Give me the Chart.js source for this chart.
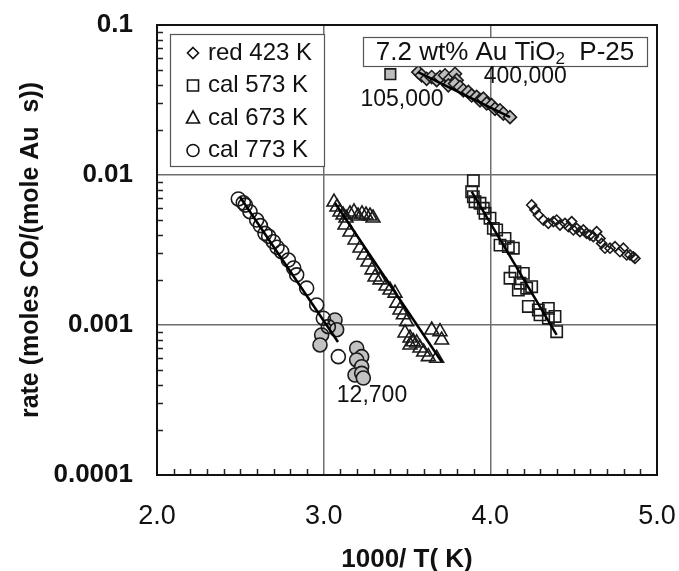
<!DOCTYPE html>
<html>
<head>
<meta charset="utf-8">
<script src="https://cdn.jsdelivr.net/npm/chart.js@4.4.0/dist/chart.umd.min.js"></script>
<style>
  html, body { margin: 0; padding: 0; background: #fff; }
  #wrap { width: 679px; height: 571px; }
</style>
</head>
<body>
<div id="wrap"><canvas id="arrhenius" width="679" height="571"></canvas></div>
<script>
const FONT = "'Liberation Sans', Arial, sans-serif";

// axis ticks
const xTicks = [2, 3, 4, 5];
const yTicks = [0.0001, 0.001, 0.01, 0.1];
const yTickLabels = ['0.0001', '0.001', '0.01', '0.1'];

// red 423 K (open diamonds)
const red423X = [4.248, 4.268, 4.288, 4.318, 4.348, 4.378, 4.398, 4.418, 4.448, 4.468, 4.488, 4.498, 4.518, 4.538, 4.558,
                 4.578, 4.598, 4.618, 4.638, 4.658, 4.668, 4.688, 4.718, 4.748, 4.778, 4.798, 4.818, 4.838, 4.858, 4.868];
const red423Y = [0.00631, 0.00585, 0.00541, 0.00501, 0.00476, 0.00489, 0.00501, 0.00464, 0.00476, 0.00452, 0.00489, 0.0043, 0.00441, 0.00419, 0.0043,
                 0.00408, 0.00398, 0.00388, 0.00419, 0.00378, 0.0035, 0.00325, 0.00325, 0.00333, 0.00308, 0.00325, 0.00293, 0.00293, 0.00285, 0.00278];

// cal 573 K (open squares)
const cal573X = [3.898, 3.888, 3.898, 3.908, 3.938, 3.958, 3.968, 3.998, 4.018, 4.038, 4.088, 4.058, 4.108, 4.138,
                 4.148, 4.198, 4.118, 4.178, 4.248, 4.168, 4.218, 4.228, 4.288, 4.348, 4.298, 4.388, 4.348, 4.398];
const cal573Y = [0.00916, 0.00774, 0.00717, 0.00664, 0.00648, 0.006, 0.00556, 0.00515, 0.00441, 0.0043, 0.00378, 0.00341, 0.00333, 0.00325,
                 0.00227, 0.00221, 0.00205, 0.0019, 0.0018, 0.00171, 0.00176, 0.00133, 0.00126, 0.00129, 0.00117, 0.00114, 0.00111, 0.000902];

// cal 673 K (open triangles)
const cal673X = [3.062, 3.08, 3.098, 3.116, 3.134, 3.158, 3.182, 3.206, 3.23, 3.254, 3.278, 3.296, 3.128, 3.158, 3.188,
                 3.218, 3.242, 3.266, 3.29, 3.308, 3.338, 3.374, 3.398, 3.428, 3.438, 3.458, 3.478, 3.498, 3.488, 3.518,
                 3.538, 3.518, 3.558, 3.578, 3.6, 3.648, 3.698, 3.708, 3.628, 3.678];
const cal673Y = [0.0066, 0.00612, 0.00567, 0.00541, 0.00517, 0.0055, 0.00567, 0.00533, 0.0055, 0.00541, 0.00533, 0.00517, 0.00464, 0.00417, 0.00369,
                 0.00326, 0.00293, 0.00263, 0.00233, 0.00209, 0.002, 0.00182, 0.00171, 0.00163, 0.0014, 0.00126, 0.00117, 0.00105, 0.000885, 0.000819,
                 0.000774, 0.000736, 0.000759, 0.000703, 0.00066, 0.000926, 0.000902, 0.000794, 0.000615, 0.0006];

// cal 773 K (open circles)
const cal773X = [2.488, 2.518, 2.53, 2.558, 2.598, 2.62, 2.648, 2.67, 2.698, 2.72, 2.748, 2.788, 2.82, 2.838, 2.898, 2.958, 2.998, 3.028, 3.088];
const cal773Y = [0.00692, 0.00653, 0.0063, 0.00569, 0.00501, 0.0046, 0.00408, 0.0039, 0.00359, 0.0033, 0.00308, 0.00271, 0.0024, 0.00216, 0.00176, 0.00136, 0.00111, 0.000975, 0.000615];

// grey filled points (not in legend)
const grey400X = [3.568, 3.588, 3.618, 3.648, 3.678, 3.698, 3.728, 3.758, 3.788, 3.798, 3.748, 3.788, 3.818,
                  3.838, 3.868, 3.888, 3.918, 3.938, 3.958, 3.978, 4.008, 4.028, 4.058, 4.078, 4.118];
const grey400Y = [0.0485, 0.0462, 0.0438, 0.045, 0.0429, 0.045, 0.0462, 0.0438, 0.0473, 0.0429, 0.0396, 0.0407, 0.0386,
                  0.0367, 0.0358, 0.0339, 0.0332, 0.0315, 0.0323, 0.03, 0.0292, 0.0276, 0.027, 0.0257, 0.0243];
const grey105X = [3.4];
const grey105Y = [0.047];
const grey127X = [3.068, 3.078, 2.988, 2.978, 3.198, 3.228, 3.198, 3.228, 3.188, 3.228, 3.238];
const grey127Y = [0.00108, 0.00093, 0.000858, 0.000736, 0.0007, 0.000615, 0.000585, 0.000527, 0.000464, 0.000476, 0.000443];

// fitted lines
const fit400X = [3.566, 4.118];
const fit400Y = [0.0485, 0.0243];
const fit573X = [3.888, 4.398];
const fit573Y = [0.00774, 0.000858];
const fit673X = [3.068, 3.708];
const fit673Y = [0.0065, 0.000569];
const fit773X = [2.498, 3.086];
const fit773Y = [0.00713, 0.00077];

// legend and annotations
const legendLabels = ['red 423 K', 'cal 573 K', 'cal 673 K', 'cal 773 K'];
const legendStyles = ['rectRot', 'rect', 'triangle', 'circle'];
const noteText = ['400,000', '105,000', '12,700'];
const noteX = [4.21, 3.47, 3.29];
const noteY = [0.0455, 0.032, 0.00034];

const pts = (xs, ys) => xs.map((v, i) => ({x: v, y: ys[i]}));

const fitLine = (xs, ys) => ({
  data: pts(xs, ys), showLine: true, pointRadius: 0, borderColor: '#000', borderWidth: 2.5
});
const markers = (xs, ys, style, r, fill) => ({
  data: pts(xs, ys), showLine: false, pointStyle: style, pointRadius: r,
  pointBackgroundColor: fill, pointBorderColor: '#1a1a1a', pointBorderWidth: 1.6
});

function drawMark(ctx, style, x, y) {
  ctx.beginPath();
  if (style === 'rectRot') {
    ctx.moveTo(x, y - 5.5); ctx.lineTo(x + 5.5, y); ctx.lineTo(x, y + 5.5); ctx.lineTo(x - 5.5, y); ctx.closePath();
  } else if (style === 'rect') {
    ctx.rect(x - 5.5, y - 5.5, 11, 11);
  } else if (style === 'triangle') {
    ctx.moveTo(x, y - 7); ctx.lineTo(x + 6.5, y + 5); ctx.lineTo(x - 6.5, y + 5); ctx.closePath();
  } else {
    ctx.arc(x, y, 6, 0, Math.PI * 2);
  }
  ctx.stroke();
}

const extras = {
  id: 'extras',
  afterDraw(chart) {
    const {ctx, chartArea: a, scales: {x, y}} = chart;
    ctx.save();

    // minor ticks inside the frame
    ctx.strokeStyle = '#222';
    ctx.lineWidth = 1.5;
    ctx.beginPath();
    for (let k = 21; k < 50; k++) {
      if (k % 10 === 0) continue;
      const px = Math.round(x.getPixelForValue(k / 10)) + 0.5;
      ctx.moveTo(px, a.bottom); ctx.lineTo(px, a.bottom - 6);
    }
    for (let d = -4; d <= -2; d++) {
      for (let m = 2; m <= 9; m++) {
        const py = Math.round(y.getPixelForValue(m * Math.pow(10, d))) + 0.5;
        ctx.moveTo(a.left, py); ctx.lineTo(a.left + 6, py);
      }
    }
    ctx.stroke();

    // frame
    ctx.lineWidth = 2;
    ctx.strokeStyle = '#111';
    ctx.strokeRect(a.left, a.top, a.right - a.left, a.bottom - a.top);

    // legend box
    const lx = a.left + 13, ly = a.top + 9, lw = 154, lh = 132;
    ctx.fillStyle = '#fff';
    ctx.fillRect(lx, ly, lw, lh);
    ctx.lineWidth = 1.2;
    ctx.strokeStyle = '#555';
    ctx.strokeRect(lx + 0.5, ly + 0.5, lw, lh);
    ctx.font = '24px ' + FONT;
    ctx.textBaseline = 'middle';
    ctx.textAlign = 'left';
    legendLabels.forEach((t, i) => {
      const cy = ly + 19 + i * 32.5;
      ctx.strokeStyle = '#111';
      ctx.lineWidth = 1.6;
      drawMark(ctx, legendStyles[i], lx + 23, cy);
      ctx.fillStyle = '#111';
      ctx.fillText(t, lx + 38, cy);
    });

    // sample title box
    const tr = a.right - 10, tt = a.top + 12, tw = 284, th = 29;
    const tl = tr - tw;
    ctx.fillStyle = '#fff';
    ctx.fillRect(tl, tt, tw, th);
    ctx.strokeStyle = '#555';
    ctx.lineWidth = 1.2;
    ctx.strokeRect(tl + 0.5, tt + 0.5, tw, th);
    ctx.fillStyle = '#111';
    const mainFont = '26px ' + FONT, subFont = '17px ' + FONT;
    const p1 = '7.2 wt% Au TiO', p2 = '2', p3 = '  P-25';
    ctx.font = mainFont; const w1 = ctx.measureText(p1).width, w3 = ctx.measureText(p3).width;
    ctx.font = subFont; const w2 = ctx.measureText(p2).width;
    let cx = tl + (tw - (w1 + w2 + w3)) / 2;
    const cy = tt + th / 2 + 1;
    ctx.font = mainFont; ctx.fillText(p1, cx, cy); cx += w1;
    ctx.font = subFont; ctx.fillText(p2, cx, cy + 7); cx += w2;
    ctx.font = mainFont; ctx.fillText(p3, cx, cy);

    // turnover annotations
    ctx.font = '23px ' + FONT;
    ctx.textAlign = 'center';
    noteText.forEach((t, i) => {
      ctx.fillText(t, x.getPixelForValue(noteX[i]), y.getPixelForValue(noteY[i]));
    });
    ctx.restore();
  }
};

new Chart(document.getElementById('arrhenius'), {
  type: 'scatter',
  data: {
    datasets: [
      fitLine(fit400X, fit400Y),
      fitLine(fit573X, fit573Y),
      fitLine(fit673X, fit673Y),
      fitLine(fit773X, fit773Y),
      markers(red423X, red423Y, 'rectRot', 5, 'rgba(0,0,0,0)'),
      markers(cal573X, cal573Y, 'rect', 8, 'rgba(0,0,0,0)'),
      markers(cal673X, cal673Y, 'triangle', 8, 'rgba(0,0,0,0)'),
      markers(cal773X, cal773Y, 'circle', 7, 'rgba(0,0,0,0)'),
      markers(grey400X, grey400Y, 'rectRot', 6.5, '#bdbdbd'),
      markers(grey105X, grey105Y, 'rect', 7.5, '#bdbdbd'),
      markers(grey127X, grey127Y, 'circle', 7, '#c2c2c2')
    ]
  },
  options: {
    responsive: false,
    animation: false,
    devicePixelRatio: 1,
    layout: { padding: { top: 25, right: 22, left: 0, bottom: 0 } },
    plugins: { legend: { display: false }, tooltip: { enabled: false } },
    scales: {
      x: {
        type: 'linear', min: 2, max: 5,
        afterBuildTicks: s => { s.ticks = xTicks.map(v => ({value: v})); },
        afterFit: s => { s.height = 96; s.paddingLeft = 0; s.paddingRight = 0; },
        ticks: { callback: v => Number(v).toFixed(1), font: { family: FONT, size: 27 }, color: '#111', padding: 25, maxRotation: 0, autoSkip: false },
        grid: {
          drawTicks: false, lineWidth: 1.5,
          color: c => (c.tick && (c.tick.value === 3 || c.tick.value === 4)) ? '#6e6e6e' : 'rgba(0,0,0,0)'
        },
        border: { display: false },
        title: { display: true, text: '1000/ T( K)', color: '#111', font: { family: FONT, size: 26, weight: 'bold' }, padding: { top: 0, bottom: -4 } }
      },
      y: {
        type: 'logarithmic', min: 0.0001, max: 0.1,
        afterBuildTicks: s => { s.ticks = yTicks.map(v => ({value: v})); },
        afterFit: s => { s.width = 157; s.paddingTop = 0; s.paddingBottom = 0; },
        ticks: { callback: (v, i) => yTickLabels[i], font: { family: FONT, size: 26, weight: 'bold' }, color: '#111', padding: 24, autoSkip: false },
        grid: {
          drawTicks: false, lineWidth: 1.5,
          color: c => (c.tick && (Math.abs(c.tick.value - 0.01) < 1e-9 || Math.abs(c.tick.value - 0.001) < 1e-9)) ? '#6e6e6e' : 'rgba(0,0,0,0)'
        },
        border: { display: false },
        title: { display: true, text: 'rate (moles CO/(mole Au  s))', color: '#111', font: { family: FONT, size: 25, weight: 'bold' }, padding: { top: 16, bottom: 0 } }
      }
    }
  },
  plugins: [extras]
});
</script>
</body>
</html>
